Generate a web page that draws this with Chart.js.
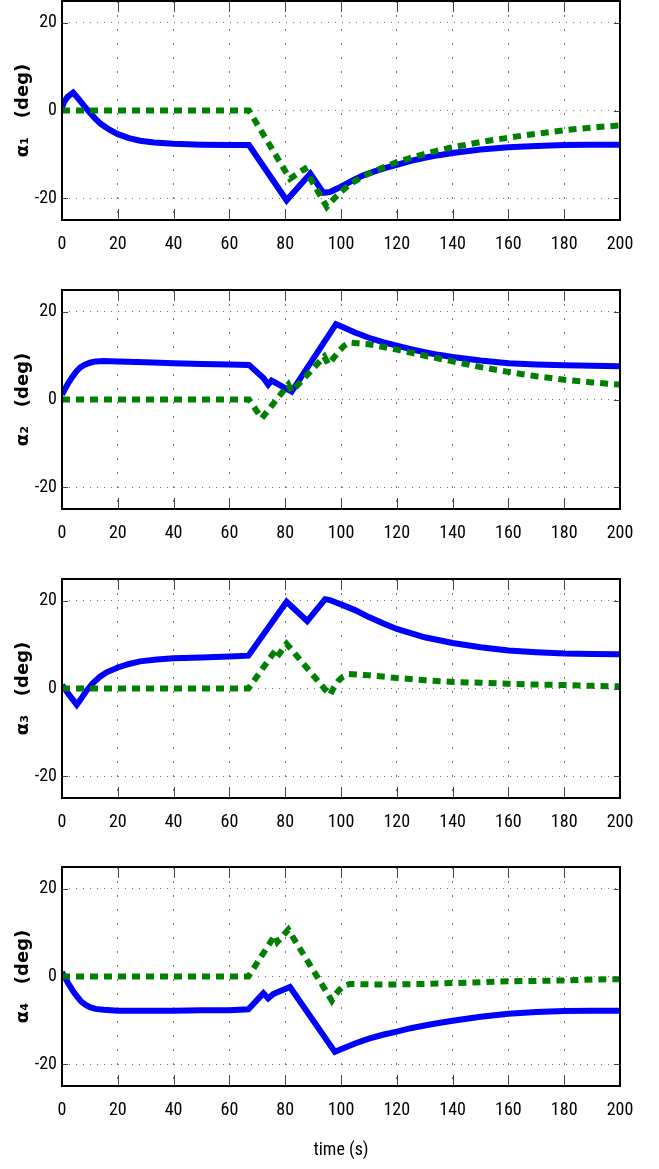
<!DOCTYPE html>
<html>
<head>
<meta charset="utf-8">
<script src="https://cdn.jsdelivr.net/npm/chart.js@4.4.1/dist/chart.umd.min.js"></script>
<style>
  body { margin: 0; background: #fff; width: 659px; height: 1169px; overflow: hidden; position: relative; }
  canvas { position: absolute; left: 0; }
</style>
</head>
<body>
<canvas id="c1" width="659" height="289" style="top:0"></canvas>
<canvas id="c2" width="659" height="289" style="top:289px"></canvas>
<canvas id="c3" width="659" height="289" style="top:578px"></canvas>
<canvas id="c4" width="659" height="303" style="top:866px"></canvas>
<script>
// tick labels
const xTicks = [0, 20, 40, 60, 80, 100, 120, 140, 160, 180, 200];
const yTicks = [-20, 0, 20];

// alpha 1
const tB1 = [0, 1, 2, 4, 6, 8, 10, 12, 14, 17, 20, 24, 28, 33, 40, 50, 60, 67, 80.5, 89, 93.7, 96, 100, 104, 108, 112, 116, 120, 125, 130, 135, 140, 150, 160, 170, 180, 190, 200];
const yB1 = [0.8, 2.2, 3.1, 4.1, 2.6, 1.0, -0.5, -1.9, -3.1, -4.4, -5.4, -6.3, -6.9, -7.3, -7.6, -7.8, -7.9, -7.9, -20.5, -14.4, -18.8, -18.6, -17.4, -16.0, -14.8, -13.9, -13.1, -12.4, -11.5, -10.8, -10.2, -9.7, -8.9, -8.4, -8.1, -7.9, -7.8, -7.8];
const tG1 = [0, 67, 81.7, 87, 94.9, 96, 98, 100, 103, 108, 114, 120, 125, 130, 135, 140, 150, 160, 170, 180, 190, 200];
const yG1 = [0, 0, -15.6, -13.3, -22, -21.2, -19.8, -18.6, -16.9, -15.0, -13.3, -11.8, -10.8, -9.9, -9.1, -8.4, -7.2, -6.2, -5.3, -4.5, -3.9, -3.4];

// alpha 2
const tB2 = [0, 1, 2, 3.5, 5, 6.5, 8, 10, 12, 15, 20, 30, 40, 50, 60, 67, 72.2, 73.9, 75.1, 82.3, 98.2, 100, 105, 110, 115, 120, 125, 130, 135, 140, 150, 160, 170, 180, 190, 200];
const yB2 = [1.1, 2.3, 3.5, 5.0, 6.3, 7.3, 7.9, 8.4, 8.7, 8.8, 8.7, 8.5, 8.3, 8.1, 8.0, 7.9, 4.9, 3.4, 4.3, 1.8, 17.2, 16.7, 15.3, 14.1, 13.1, 12.3, 11.5, 10.8, 10.2, 9.7, 8.9, 8.3, 8.0, 7.8, 7.7, 7.6];
const tG2 = [0, 67, 71.6, 81.1, 82.3, 94, 95.5, 97, 99, 101, 103, 110, 120, 130, 140, 150, 160, 170, 180, 190, 200];
const yG2 = [0, 0, -4.3, 3.4, 1.8, 9.8, 8.0, 9.2, 10.8, 12.2, 13.0, 12.6, 11.4, 10.0, 8.7, 7.4, 6.3, 5.3, 4.5, 3.9, 3.4];

// alpha 3
const tB3 = [0, 2.5, 5.3, 7, 8.8, 11, 13.6, 16, 20, 24, 28, 34, 40, 50, 60, 66.8, 80.5, 87.9, 94.3, 96, 98, 100, 105, 110, 115, 120, 130, 140, 150, 160, 170, 180, 190, 200];
const yB3 = [0.8, -1.4, -3.7, -2.2, -0.5, 1.2, 2.7, 3.7, 4.8, 5.6, 6.2, 6.6, 6.9, 7.1, 7.3, 7.5, 19.8, 15.4, 20.4, 20.2, 19.7, 19.2, 17.9, 16.3, 14.9, 13.6, 11.7, 10.4, 9.4, 8.7, 8.3, 8.0, 7.9, 7.8];
const tG3 = [0, 66.8, 76.3, 77.2, 80.5, 96, 97.5, 99, 100.5, 102.6, 110, 120, 130, 140, 150, 160, 170, 180, 190, 200];
const yG3 = [0, 0, 8.5, 7.3, 10.2, -1.5, 0.3, 1.7, 2.6, 3.3, 3.0, 2.4, 1.9, 1.5, 1.3, 1.1, 0.9, 0.8, 0.6, 0.5];

// alpha 4
const tB4 = [0, 2, 4, 5.7, 7, 8.5, 10, 12, 15, 20, 30, 40, 50, 60, 66.8, 72.2, 73.9, 75.7, 81.7, 97.8, 100, 105, 110, 115, 120, 125, 130, 135, 140, 150, 160, 170, 180, 190, 200];
const yB4 = [1.0, -1.3, -3.4, -4.8, -5.8, -6.5, -7.0, -7.4, -7.6, -7.8, -7.8, -7.8, -7.7, -7.7, -7.5, -3.8, -5.0, -4.0, -2.4, -17.2, -16.6, -15.3, -14.2, -13.3, -12.6, -11.8, -11.2, -10.6, -10.1, -9.2, -8.5, -8.1, -7.9, -7.8, -7.8];
const tG4 = [0, 66.8, 76.3, 77.2, 81.1, 96.7, 98, 99.5, 101, 103.2, 110, 120, 130, 140, 150, 160, 170, 180, 190, 200];
const yG4 = [0, 0, 9.4, 7.9, 10.7, -5.5, -4.1, -3.0, -2.2, -1.7, -1.8, -1.8, -1.7, -1.5, -1.3, -1.1, -1.0, -0.9, -0.7, -0.6];

const narrow = "'Liberation Sans Narrow', 'Roboto Condensed', 'DejaVu Sans Condensed', 'Liberation Sans', sans-serif";

// condensed text where the font allows it
const stretch = {
  id: 'stretch',
  beforeDraw(chart) { chart.ctx.fontStretch = 'condensed'; }
};

// box round the plot + inward tick marks, like matlab
const frame = {
  id: 'frame',
  afterDatasetsDraw(chart) {
    const { ctx, chartArea: a, scales: { x, y } } = chart;
    ctx.save();
    ctx.strokeStyle = '#444';
    ctx.lineWidth = 1;
    ctx.beginPath();
    xTicks.forEach(v => {
      const px = Math.round(x.getPixelForValue(v)) + 0.5;
      ctx.moveTo(px, a.top); ctx.lineTo(px, a.top + 11);
      ctx.moveTo(px, a.bottom); ctx.lineTo(px, a.bottom - 11);
    });
    yTicks.forEach(v => {
      const py = Math.round(y.getPixelForValue(v)) + 0.5;
      ctx.moveTo(a.left, py); ctx.lineTo(a.left + 6, py);
      ctx.moveTo(a.right, py); ctx.lineTo(a.right - 6, py);
    });
    ctx.stroke();
    ctx.strokeStyle = '#000';
    ctx.lineWidth = 2;
    ctx.strokeRect(a.left, a.top, a.width, a.height);
    ctx.restore();
  }
};

function pts(t, v) {
  return t.map((tt, i) => ({ x: tt, y: v[i] }));
}

function makeChart(id, tb, yb, tg, yg, ylabel, last) {
  new Chart(document.getElementById(id), {
    type: 'line',
    data: {
      datasets: [{
        data: pts(tg, yg),
        borderColor: '#008000',
        borderWidth: 6,
        borderDash: [8, 6],
        pointRadius: 0,
        tension: 0,
        clip: 0
      }, {
        data: pts(tb, yb),
        borderColor: '#0000ff',
        borderWidth: 6,
        pointRadius: 0,
        tension: 0,
        clip: 0
      }]
    },
    options: {
      responsive: false,
      animation: false,
      layout: { padding: { top: 1, right: 39, left: 0, bottom: 0 } },
      plugins: { legend: { display: false }, tooltip: { enabled: false } },
      scales: {
        x: {
          type: 'linear',
          min: 0,
          max: 200,
          afterFit: s => { s.height = last ? 83 : 69; },
          ticks: { stepSize: 20, color: '#000', font: { family: narrow, size: 18 }, padding: 14, maxRotation: 0 },
          grid: { color: '#777', lineWidth: 1, drawTicks: false },
          border: { display: false, dash: [2, 12] },
          title: {
            display: last,
            text: 'time (s)',
            color: '#000',
            font: { family: narrow, size: 18 },
            padding: { top: 2, bottom: 8 }
          }
        },
        y: {
          min: -25,
          max: 25,
          afterBuildTicks: s => { s.ticks = yTicks.map(v => ({ value: v })); },
          afterFit: s => { s.width = 62; s.paddingTop = 0; s.paddingBottom = 0; },
          ticks: { color: '#000', font: { family: narrow, size: 18 }, padding: 5 },
          grid: { color: '#777', lineWidth: 1, drawTicks: false },
          border: { display: false, dash: [1, 6] },
          title: {
            display: true,
            text: ylabel,
            color: '#000',
            font: { family: "'DejaVu Sans'", size: 18, weight: 'bold' },
            padding: { top: 13, bottom: 0 }
          }
        }
      }
    },
    plugins: [stretch, frame]
  });
}

makeChart('c1', tB1, yB1, tG1, yG1, 'α₁   (deg)', false);
makeChart('c2', tB2, yB2, tG2, yG2, 'α₂   (deg)', false);
makeChart('c3', tB3, yB3, tG3, yG3, 'α₃   (deg)', false);
makeChart('c4', tB4, yB4, tG4, yG4, 'α₄   (deg)', true);
</script>
</body>
</html>
